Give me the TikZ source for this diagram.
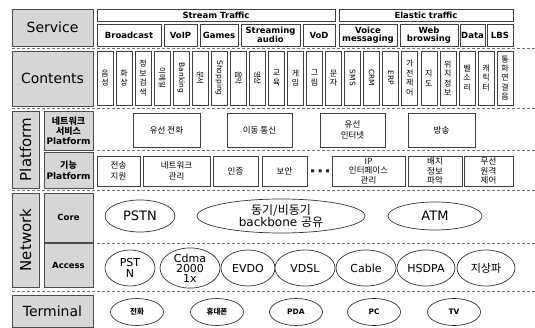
\documentclass[tikz,border=0pt]{standalone}
\usepackage{fontspec}
\setmainfont{DejaVu Sans}
\newfontfamily\kr{Noto Sans CJK KR}
\usetikzlibrary{shapes.geometric}
\newcommand\rbox[7]{\node[#2, minimum width={(#5-#3)*1pt}, minimum height={(#6-#4)*1pt}] (#1) at ({(#3+#5)/2},{(#4+#6)/2}) {#7};}
\newcommand\cst[2]{\node[wbox, minimum width=16pt, minimum height=54pt, font=\kr\fontsize{8}{9.4}\selectfont] (c#1) at ({105+(#1-1)*19.05},78) {#2};}
\newcommand\crt[3]{\node[wbox, rotate=-90, minimum width=54pt, minimum height=16pt, font=#3\fontsize{7.5}{8}\selectfont] (c#1) at ({105+(#1-1)*19.05},78) {#2};}
\begin{document}
\begin{tikzpicture}[x=1pt,y=-1pt,
  gbox/.style={draw=black!70, fill=black!16, line width=0.8pt, inner sep=0pt, align=center},
  wbox/.style={draw=black!75, fill=white, line width=0.7pt, inner sep=0pt, align=center},
  sep/.style={draw=black!55, line width=0.7pt, dash pattern=on 3pt off 2pt},
  ell/.style={ellipse, draw=black!80, fill=white, line width=0.7pt, inner sep=0pt, align=center},
  big/.style={font=\fontsize{14}{16}\selectfont},
  sv/.style={font=\fontsize{8.5}{8.5}\selectfont\bfseries},
  pf/.style={font=\kr\fontsize{8.5}{10.5}\selectfont},
  sl/.style={font=\fontsize{8.5}{10}\selectfont\bfseries},
  cn/.style={font=\fontsize{13}{14}\selectfont},
  an/.style={font=\fontsize{11}{11}\selectfont},
  tm/.style={font=\fontsize{7.5}{8}\selectfont\bfseries}]
\useasboundingbox (0,0) rectangle (535,328);
% separators
\draw[sep] (12,48.5) -- (535,48.5);
\draw[sep] (12,108) -- (535,108);
\draw[sep] (97,150.5) -- (535,150.5);
\draw[sep] (12,190) -- (535,190);
\draw[sep] (97,243) -- (535,243);
\draw[sep] (12,291) -- (535,291);
% Service
\rbox{svc}{gbox,big}{12}{9}{93}{46}{Service}
\rbox{stream}{wbox,sv}{97}{9}{335}{21}{Stream Traffic}
\rbox{elastic}{wbox,sv}{339}{9}{513}{21}{Elastic traffic}
\rbox{s1}{wbox,sv}{97}{24}{161}{46}{Broadcast}
\rbox{s2}{wbox,sv}{164}{24}{197}{46}{VoIP}
\rbox{s3}{wbox,sv}{200}{24}{238}{46}{Games}
\rbox{s4}{wbox,sv}{241}{24}{300}{46}{Streaming\\audio}
\rbox{s5}{wbox,sv}{303}{24}{335}{46}{VoD}
\rbox{s6}{wbox,sv}{339}{24}{397}{46}{Voice\\messaging}
\rbox{s7}{wbox,sv}{400}{24}{458}{46}{Web\\browsing}
\rbox{s8}{wbox,sv}{460}{24}{485}{46}{Data}
\rbox{s9}{wbox,sv}{487}{24}{513}{46}{LBS}
% Contents
\rbox{cont}{gbox,big}{12}{51}{93}{106}{Contents}
\cst{1}{음\\성}
\cst{2}{화\\상}
\cst{3}{정\\보\\검\\색}
\crt{4}{이메일}{\kr}
\crt{5}{Banking}{}
\crt{6}{문서}{\kr}
\crt{7}{Shopping}{}
\crt{8}{음악}{\kr}
\crt{9}{영상}{\kr}
\cst{10}{교\\육}
\cst{11}{게\\임}
\cst{12}{그\\림}
\cst{13}{문\\자}
\crt{14}{SMS}{}
\crt{15}{CRM}{}
\crt{16}{ERP}{}
\cst{17}{가\\전\\제\\어}
\cst{18}{지\\도}
\cst{19}{위\\치\\정\\보}
\cst{20}{벨\\소\\리}
\cst{21}{캐\\릭\\터}
\cst{22}{통\\화\\연\\결\\음}
% Platform
\rbox{plat}{gbox}{12}{111}{39}{188}{}
\node[rotate=90, font=\fontsize{15}{16}\selectfont] (platt) at (plat) {Platform};
\rbox{nsp}{gbox,font=\fontsize{9}{10}\selectfont\bfseries}{44}{111}{93}{150}{{\kr 네트워크}\\{\kr 서비스}\\Platform}
\rbox{fp}{gbox,font=\fontsize{9}{11}\selectfont\bfseries}{44}{152}{93}{188}{{\kr 기능}\\Platform}
\rbox{p1}{wbox,pf}{133}{113}{200}{147}{유선 전화}
\rbox{p2}{wbox,pf}{227}{113}{292}{147}{이동 통신}
\rbox{p3}{wbox,pf}{320}{113}{385}{147}{유선\\인터넷}
\rbox{p4}{wbox,pf}{408}{113}{475}{147}{방송}
\rbox{f1}{wbox,pf}{97}{156}{140}{186}{전송\\지원}
\rbox{f2}{wbox,pf}{143}{156}{210}{186}{네트워크\\관리}
\rbox{f3}{wbox,pf}{213}{156}{258}{186}{인증}
\rbox{f4}{wbox,pf}{262}{156}{307}{186}{보안}
\fill[black!85] (311,169.5) rectangle +(3,3) (318.5,169.5) rectangle +(3,3) (326,169.5) rectangle +(3,3);
\rbox{f5}{wbox,font=\kr\fontsize{8.5}{9.5}\selectfont}{332}{156}{405}{186}{IP\\인터페이스\\관리}
\rbox{f6}{wbox,font=\kr\fontsize{8.5}{9.5}\selectfont}{408}{156}{462}{186}{배치\\정보\\파악}
\rbox{f7}{wbox,font=\kr\fontsize{8.5}{9.5}\selectfont}{464}{156}{513}{186}{무선\\원격\\제어}
% Network
\rbox{net}{gbox}{12}{193}{39}{287}{}
\node[rotate=90, font=\fontsize{15}{16}\selectfont] (nett) at (net) {Network};
\rbox{core}{gbox,sl}{44}{193}{93}{242.5}{Core}
\rbox{acc}{gbox,sl}{44}{243.5}{93}{287}{Access}
\node[ell,cn,minimum width=70pt,minimum height=32pt] (pstn) at (140,216) {PSTN};
\node[ell,font=\fontsize{12}{12}\selectfont,minimum width=168pt,minimum height=34pt] (bb) at (281,216) {{\kr 동기/비동기}\\backbone {\kr 공유}};
\node[ell,cn,minimum width=94pt,minimum height=28pt] (atm) at (435,216) {ATM};
\node[ell,an,minimum width=50pt,minimum height=36pt] (a1) at (130,268) {PST\\N};
\node[ell,font=\fontsize{11}{10}\selectfont,minimum width=60pt,minimum height=36pt] (a2) at (190,268) {Cdma\\2000\\1x};
\node[ell,an,minimum width=54pt,minimum height=36pt] (a3) at (248,268) {EVDO};
\node[ell,an,minimum width=60pt,minimum height=36pt] (a4) at (305,268) {VDSL};
\node[ell,an,minimum width=60pt,minimum height=36pt] (a5) at (366,268) {Cable};
\node[ell,an,minimum width=58pt,minimum height=36pt] (a6) at (426,268) {HSDPA};
\node[ell,an,minimum width=58pt,minimum height=36pt] (a7) at (486,268) {{\kr 지상파}};
% Terminal
\rbox{term}{gbox,big}{12}{295}{93}{327}{Terminal}
\node[ell,tm,minimum width=53pt,minimum height=27pt] (t1) at (137,312) {{\kr 전화}};
\node[ell,tm,minimum width=53pt,minimum height=27pt] (t2) at (217,312) {{\kr 휴대폰}};
\node[ell,tm,minimum width=53pt,minimum height=27pt] (t3) at (296,312) {PDA};
\node[ell,tm,minimum width=53pt,minimum height=27pt] (t4) at (374,312) {PC};
\node[ell,tm,minimum width=53pt,minimum height=27pt] (t5) at (454,312) {TV};
\end{tikzpicture}
\end{document}
